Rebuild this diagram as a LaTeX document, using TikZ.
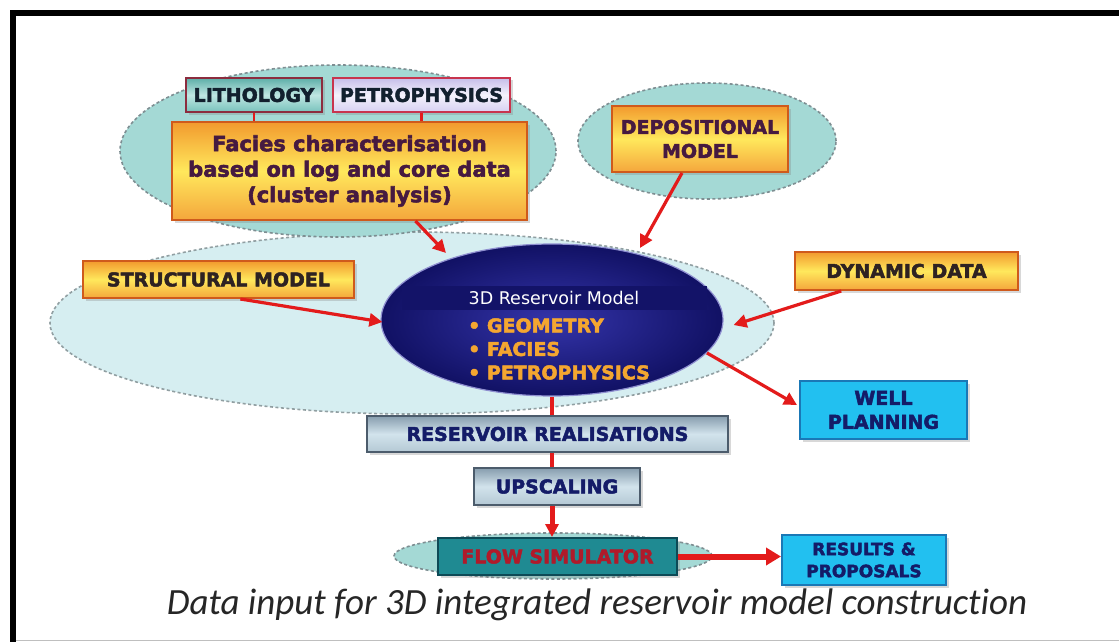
\documentclass[tikz,border=0pt]{standalone}
\usepackage{fontspec}
\setmainfont{DejaVu Sans}[BoldFeatures={FakeBold=2.5}]
\newfontfamily\captionfont{Carlito}[Ligatures=NoCommon]
\usetikzlibrary{arrows.meta,shapes.geometric,shadows,calc}

\definecolor{zoneteal}{HTML}{A4D9D5}
\definecolor{zonepale}{HTML}{D6EEF1}
\definecolor{dashgray}{HTML}{7E8E92}
\definecolor{warmtop}{HTML}{F29A2E}
\definecolor{warmmid}{HTML}{FFE85C}
\definecolor{warmbot}{HTML}{F4A63C}
\definecolor{warmedge}{HTML}{CF5A1C}
\definecolor{lithtop}{HTML}{5DAEA8}
\definecolor{lithmid}{HTML}{BFE6E2}
\definecolor{lithbot}{HTML}{78C2BC}
\definecolor{lithedge}{HTML}{8C2C3E}
\definecolor{petrotop}{HTML}{C6BEEA}
\definecolor{petromid}{HTML}{F4F2FC}
\definecolor{petrobot}{HTML}{D6D0F2}
\definecolor{petroedge}{HTML}{C8344E}
\definecolor{coreinner}{HTML}{3434AA}
\definecolor{coreouter}{HTML}{111164}
\definecolor{coreband}{HTML}{131368}
\definecolor{bulletorange}{HTML}{F4A630}
\definecolor{slatetop}{HTML}{879DAE}
\definecolor{slatemid}{HTML}{D2E3EC}
\definecolor{slatebot}{HTML}{B4C8D4}
\definecolor{slateedge}{HTML}{4C5C6C}
\definecolor{skyfill}{HTML}{22C0F0}
\definecolor{skyedge}{HTML}{1A78B6}
\definecolor{navytext}{HTML}{141C68}
\definecolor{darkink}{HTML}{12202E}
\definecolor{flowfill}{HTML}{1F8A92}
\definecolor{flowedge}{HTML}{0D4A56}
\definecolor{flowtext}{HTML}{B01A2A}
\definecolor{linkred}{HTML}{E31B1B}
\definecolor{plum}{HTML}{461A40}
\definecolor{ink}{HTML}{2E2222}

\tikzset{
  zone/.style={ellipse, inner sep=0pt, draw=dashgray, line width=1.6pt, dash pattern=on 3pt off 2.5pt},
  box/.style={rectangle, inner sep=0pt, line width=2pt, align=center,
    font=\bfseries\fontsize{19}{24}\selectfont,
    drop shadow={shadow xshift=2.5pt, shadow yshift=-2.5pt, opacity=0.3}},
  warm/.style={box, draw=warmedge, top color=warmtop, bottom color=warmbot, middle color=warmmid, text=ink},
  slate/.style={box, draw=slateedge, top color=slatetop, bottom color=slatebot, middle color=slatemid, text=navytext},
  sky/.style={box, draw=skyedge, fill=skyfill, text=navytext},
  link/.style={draw=linkred, line width=3.2pt},
  feed/.style={link, -{Triangle[length=13pt,width=13pt]}},
}

\begin{document}
\begin{tikzpicture}[x=1pt,y=-1pt]
\useasboundingbox (0,0) rectangle (1119,642);
\fill[white] (0,0) rectangle (1119,642);

% frame
\draw[black, line width=6pt] (13,642) -- (13,13) -- (1119,13);
\draw[black!25, line width=1pt] (16,640.5) -- (1119,640.5);

% grouping zones
\node[zone, fill=zonepale, draw=dashgray!85, minimum width=724pt, minimum height=182pt] (bigzone) at (412,323) {};
\node[zone, fill=zoneteal, minimum width=436pt, minimum height=172pt] (topzone) at (338,151) {};
\node[zone, fill=zoneteal, minimum width=258pt, minimum height=116pt] (depozone) at (707,141) {};

% upper inputs
\node[box, draw=lithedge, top color=lithtop, bottom color=lithbot, middle color=lithmid, text=darkink,
      minimum width=136pt, minimum height=34pt] (lith) at (254,95) {LITHOLOGY};
\node[box, draw=petroedge, top color=petrotop, bottom color=petrobot, middle color=petromid, text=darkink,
      minimum width=177pt, minimum height=34pt] (petro) at (421.5,95) {PETROPHYSICS};
\node[warm, text=plum, font=\bfseries\fontsize{21}{25.5}\selectfont, minimum width=355pt, minimum height=98pt] (facies) at (349.5,171)
  {Facies characterisation\\based on log and core data\\(cluster analysis)};
\node[warm, text=plum, minimum width=176pt, minimum height=66pt] (depo) at (700,139) {DEPOSITIONAL\\MODEL};
\node[warm, minimum width=271pt, minimum height=37pt] (struct) at (218.5,279.5) {STRUCTURAL MODEL};
\node[warm, minimum width=223pt, minimum height=38pt] (dyn) at (906.5,271) {DYNAMIC DATA};

% central model
\node[ellipse, inner sep=0pt, minimum width=342pt, minimum height=152pt, shading=radial,
      inner color=coreinner, outer color=coreouter, draw=coreinner!55!white, line width=1.2pt] (core) at (552,320) {};
\node[fill=coreband, inner sep=0pt, minimum width=305pt, minimum height=24pt, text=white,
      font=\fontsize{17.5}{19}\selectfont] (title) at (554,298) {3D Reservoir Model};
\node[anchor=west, align=left, inner sep=0pt, text=bulletorange,
      font=\bfseries\fontsize{19}{23.5}\selectfont] (bullets) at (468,349)
  {• GEOMETRY\\• FACIES\\• PETROPHYSICS};

% outputs
\node[sky, minimum width=167pt, minimum height=58pt] (well) at (883.5,410) {WELL\\PLANNING};
\node[slate, minimum width=361pt, minimum height=36pt] (rr) at (547.5,434) {RESERVOIR REALISATIONS};
\node[slate, minimum width=166pt, minimum height=37pt] (up) at (557,486.5) {UPSCALING};
\node[zone, fill=zoneteal, minimum width=318pt, minimum height=46pt] (flowzone) at (553,556) {};
\node[box, draw=flowedge, fill=flowfill, text=flowtext, minimum width=239pt, minimum height=37pt] (flow) at (557.5,556.5) {FLOW SIMULATOR};
\node[sky, font=\bfseries\fontsize{17}{22}\selectfont, minimum width=164pt, minimum height=50pt] (res) at (864,560) {RESULTS \&\\PROPOSALS};

% connectors
\draw[link, line width=2.2pt] (lith.south) -- (lith.south |- facies.north);
\draw[link, line width=2.2pt] (petro.south) -- (petro.south |- facies.north);
\draw[feed] ($(facies.south)+(66,0)$) -- ($(core.center)+(-106,-67)$);
\draw[feed] ($(depo.south)+(-18,0)$) -- ($(core.center)+(88,-72)$);
\draw[feed] ($(struct.south west)!0.58!(struct.south east)$) -- ($(core.west)+(2,2)$);
\draw[feed] ($(dyn.south west)!0.21!(dyn.south east)$) -- ($(core.east)+(10,5)$);
\draw[feed] (core.-12) -- ($(well.west)+(-2,-5)$);
\draw[link] (core.south) -- (core.south |- rr.north);
\draw[link] (core.south |- rr.south) -- (core.south |- up.north);
\draw[feed, line width=5pt] (core.south |- up.south) -- (core.south |- flow.north);
\draw[feed, line width=6pt, -{Triangle[length=15pt,width=17pt]}] (flow.east) -- (flow.east -| res.west);

% caption
\node[anchor=base, inner sep=0pt, font=\captionfont\itshape\fontsize{37}{40}\selectfont, text=black!85] (caption) at (597,614)
  {Data input for 3D integrated reservoir model construction};
\end{tikzpicture}
\end{document}
